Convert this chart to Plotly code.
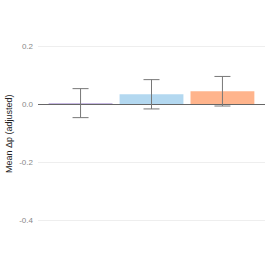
import plotly.graph_objects as go

categories = ["A", "B", "C"]
means = [0.002, 0.034, 0.044]
err_plus = [0.051, 0.050, 0.051]
err_minus = [0.049, 0.051, 0.051]
colors = ["#c8b9e3", "#b3d8f0", "#ffb48c"]
y_title = "Mean Δp (adjusted)"

fig = go.Figure(go.Bar(
    x=categories, y=means, width=0.9,
    marker=dict(color=colors, line=dict(width=0)),
    error_y=dict(type="data", symmetric=False, array=err_plus, arrayminus=err_minus,
                 color="#777777", thickness=1, width=8),
))
fig.update_layout(
    width=270, height=270,
    margin=dict(l=38, r=5, t=17, b=21, autoexpand=False),
    paper_bgcolor="white", plot_bgcolor="white",
    showlegend=False,
    font=dict(family="Liberation Sans, Arial, sans-serif"),
)
fig.add_annotation(text=y_title, xref="paper", yref="paper", x=-0.128, y=0.5,
                   xanchor="center", yanchor="middle", textangle=-90, showarrow=False,
                   font=dict(size=9, color="#222222"))
fig.update_xaxes(range=[-0.6, 2.6], showticklabels=False, showgrid=False, zeroline=False, showline=False, ticks="")
fig.update_yaxes(range=[-0.5, 0.3], tickvals=[-0.4, -0.2, 0.0, 0.2], ticktext=["-0.4", "-0.2", "0.0", "0.2"],
                 tickfont=dict(size=8, color="#888888"), gridcolor="#eeeeee", gridwidth=1,
                 zeroline=True, zerolinecolor="#666666", zerolinewidth=1,
                 ticklabelstandoff=4, automargin=False,
                 showline=False, ticks="")
fig.write_html("out.html", config={"displayModeBar": False},
               post_script="document.body.style.margin='0px';")
